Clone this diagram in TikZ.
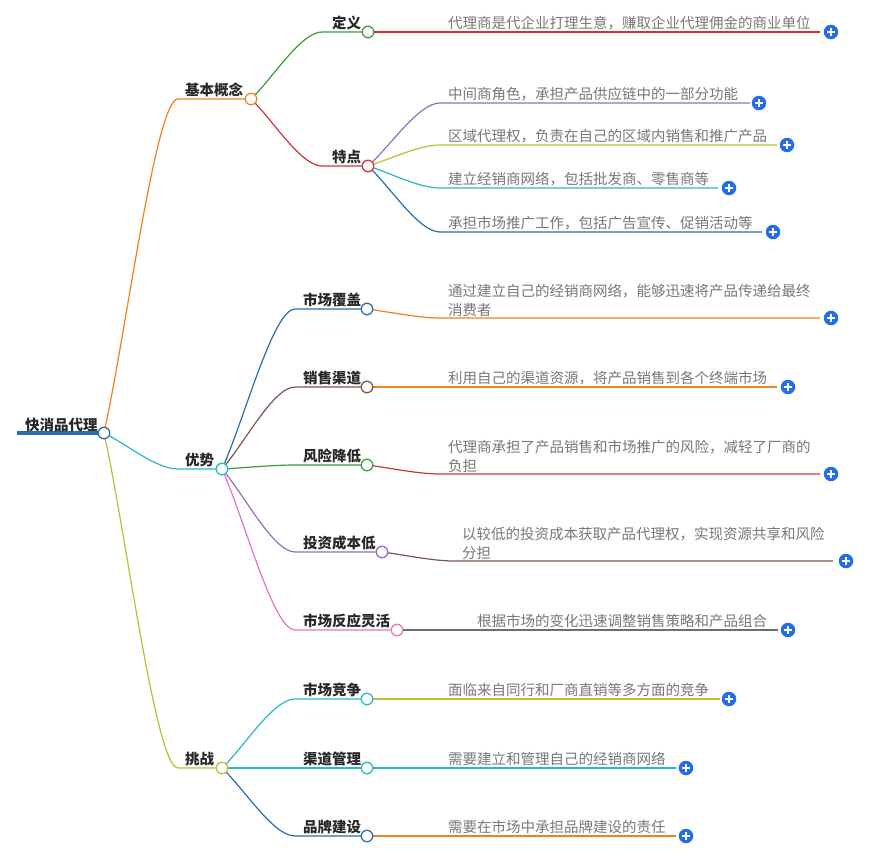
\documentclass[tikz,border=0pt]{standalone}
\usepackage{fontspec}
\setmainfont{Noto Sans CJK SC}
\usetikzlibrary{calc}
\pgfdeclarelayer{bg}
\pgfsetlayers{bg,main}
\definecolor{cblue}{RGB}{43,108,171}
\definecolor{corange}{RGB}{240,130,30}
\definecolor{cgreen}{RGB}{60,155,60}
\definecolor{cred}{RGB}{208,50,60}
\definecolor{cpurple}{RGB}{150,110,190}
\definecolor{colive}{RGB}{190,190,50}
\definecolor{cteal}{RGB}{40,185,200}
\definecolor{cbrown}{RGB}{125,85,75}
\definecolor{cpink}{RGB}{225,120,190}
\definecolor{cgray}{RGB}{110,110,110}
\definecolor{plusblue}{RGB}{35,110,230}
\definecolor{lbltext}{RGB}{40,40,40}
\definecolor{leaftext}{RGB}{120,120,120}
\tikzset{
  dot/.style={circle, draw=#1, fill=white, line width=1.3pt, minimum size=11.5pt, inner sep=0pt},
  lbl/.style={anchor=base west, inner sep=0pt, font=\fontsize{14.5}{19}\selectfont\bfseries, text=lbltext},
  leaf/.style={anchor=base west, inner sep=0pt, font=\fontsize{14.5}{19}\selectfont, text=leaftext, align=left},
  link/.style={line width=1.2pt, draw=#1},
  plusbtn/.style={circle, fill=plusblue, minimum size=14.5pt, inner sep=0pt,
    path picture={\draw[white, line width=1.6pt]
      ([xshift=-4pt]path picture bounding box.center) -- ([xshift=4pt]path picture bounding box.center)
      ([yshift=-4pt]path picture bounding box.center) -- ([yshift=4pt]path picture bounding box.center);}},
}
\newcommand\mmlink[4]{%
  \begin{pgfonlayer}{bg}
  \draw[link=#1] let \p1=(#2.center), \p2=(#3.center) in
    (\p1) .. controls ({\x1+0.3*(#4pt-\x1)},{\y1+0.3*(\y2-\y1)}) and ({\x1+0.7*(#4pt-\x1)},\y2) .. (#4pt,\y2) -- (\p2);
  \end{pgfonlayer}}
\begin{document}
\begin{tikzpicture}[x=1pt,y=-1pt]
\begin{pgfonlayer}{bg}
\fill[white] (0,0) rectangle (889,855);
\end{pgfonlayer}
\useasboundingbox (0,0) rectangle (889,855);
% root
\node[lbl] (t-root) at (25,430.5) {快消品代理};
\node[dot=cblue] (root) at (104,433) {};
\coordinate (root-s) at (17,433);
\begin{pgfonlayer}{bg}
\draw[cblue, line width=4pt] (root-s) -- (root.center);
\end{pgfonlayer}
% level 1
\node[lbl] (t-b1) at (185,95.5) {基本概念};
\node[dot=corange] (b1) at (251,99) {};
\node[lbl] (t-b2) at (185,465.5) {优势};
\node[dot=cteal] (b2) at (222,469) {};
\node[lbl] (t-b3) at (185,764.5) {挑战};
\node[dot=colive] (b3) at (222,768) {};
\mmlink{corange}{root}{b1}{178}
\mmlink{cteal}{root}{b2}{178}
\mmlink{colive}{root}{b3}{178}
% level 2
\node[lbl] (t-c11) at (332,28.5) {定义};
\node[dot=cgreen] (c11) at (368,32) {};
\node[lbl] (t-c12) at (332,162.5) {特点};
\node[dot=cred] (c12) at (368,166) {};
\mmlink{cgreen}{b1}{c11}{322}
\mmlink{cred}{b1}{c12}{322}
\node[lbl] (t-c21) at (303,305.5) {市场覆盖};
\node[dot=cblue] (c21) at (367,309) {};
\node[lbl] (t-c22) at (303,383.5) {销售渠道};
\node[dot=cbrown] (c22) at (367,387) {};
\node[lbl] (t-c23) at (303,461.5) {风险降低};
\node[dot=cgreen] (c23) at (367,465) {};
\node[lbl] (t-c24) at (303,548.5) {投资成本低};
\node[dot=cpurple] (c24) at (382,552) {};
\node[lbl] (t-c25) at (303,626.5) {市场反应灵活};
\node[dot=cpink] (c25) at (397,630) {};
\mmlink{cblue}{b2}{c21}{295}
\mmlink{cbrown}{b2}{c22}{295}
\mmlink{cgreen}{b2}{c23}{295}
\mmlink{cpurple}{b2}{c24}{295}
\mmlink{cpink}{b2}{c25}{295}
\node[lbl] (t-c31) at (303,695.5) {市场竞争};
\node[dot=cteal] (c31) at (367,699) {};
\node[lbl] (t-c32) at (303,764.5) {渠道管理};
\node[dot=cteal] (c32) at (367,768) {};
\node[lbl] (t-c33) at (303,832.5) {品牌建设};
\node[dot=cblue] (c33) at (367,836) {};
\mmlink{cteal}{b3}{c31}{295}
\mmlink{cteal}{b3}{c32}{295}
\mmlink{cblue}{b3}{c33}{295}
% leaves
\node[leaf] (d1) at (448,28.5) {代理商是代企业打理生意，赚取企业代理佣金的商业单位};
\coordinate (d1-e) at (820,32); \node[plusbtn] (d1-p) at (831,32) {};
\mmlink{cred}{c11}{d1-e}{440}
\node[leaf] (e1) at (448,99.5) {中间商角色，承担产品供应链中的一部分功能};
\coordinate (e1-e) at (750,103); \node[plusbtn] (e1-p) at (759,103) {};
\mmlink{cpurple}{c12}{e1-e}{440}
\node[leaf] (e2) at (448,141.5) {区域代理权，负责在自己的区域内销售和推广产品};
\coordinate (e2-e) at (777,145); \node[plusbtn] (e2-p) at (787,145) {};
\mmlink{colive}{c12}{e2-e}{440}
\node[leaf] (e3) at (448,184.5) {建立经销商网络，包括批发商、零售商等};
\coordinate (e3-e) at (718,188); \node[plusbtn] (e3-p) at (729,188) {};
\mmlink{cteal}{c12}{e3-e}{440}
\node[leaf] (e4) at (448,228.5) {承担市场推广工作，包括广告宣传、促销活动等};
\coordinate (e4-e) at (762,232); \node[plusbtn] (e4-p) at (773,232) {};
\mmlink{cblue}{c12}{e4-e}{440}
\node[leaf] (f1) at (448,315.5) {通过建立自己的经销商网络，能够迅速将产品传递给最终\\消费者};
\coordinate (f1-e) at (820,318); \node[plusbtn] (f1-p) at (831,318) {};
\mmlink{corange}{c21}{f1-e}{440}
\node[leaf] (f2) at (448,383.5) {利用自己的渠道资源，将产品销售到各个终端市场};
\coordinate (f2-e) at (777,387); \node[plusbtn] (f2-p) at (788,387) {};
\mmlink{corange}{c22}{f2-e}{440}
\node[leaf] (f3) at (448,471.5) {代理商承担了产品销售和市场推广的风险，减轻了厂商的\\负担};
\coordinate (f3-e) at (820,474); \node[plusbtn] (f3-p) at (831,474) {};
\mmlink{cred}{c23}{f3-e}{440}
\node[leaf] (f4) at (462,558.5) {以较低的投资成本获取产品代理权，实现资源共享和风险\\分担};
\coordinate (f4-e) at (833,561); \node[plusbtn] (f4-p) at (846,561) {};
\mmlink{cbrown}{c24}{f4-e}{454}
\node[leaf] (f5) at (477,626.5) {根据市场的变化迅速调整销售策略和产品组合};
\coordinate (f5-e) at (778,630); \node[plusbtn] (f5-p) at (788,630) {};
\mmlink{cgray}{c25}{f5-e}{469}
\node[leaf] (g1) at (448,695.5) {面临来自同行和厂商直销等多方面的竞争};
\coordinate (g1-e) at (720,699); \node[plusbtn] (g1-p) at (729,699) {};
\mmlink{colive}{c31}{g1-e}{440}
\node[leaf] (g2) at (448,764.5) {需要建立和管理自己的经销商网络};
\coordinate (g2-e) at (676,768); \node[plusbtn] (g2-p) at (686,768) {};
\mmlink{cteal}{c32}{g2-e}{440}
\node[leaf] (g3) at (448,832.5) {需要在市场中承担品牌建设的责任};
\coordinate (g3-e) at (676,836); \node[plusbtn] (g3-p) at (686,836) {};
\mmlink{corange}{c33}{g3-e}{440}
\end{tikzpicture}
\end{document}
